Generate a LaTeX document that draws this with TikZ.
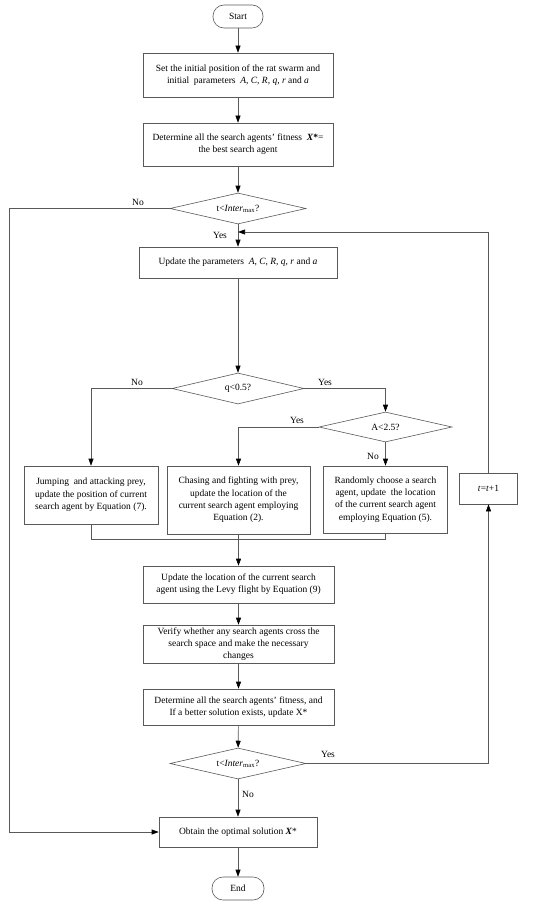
\documentclass[tikz,border=0pt]{standalone}
\usepackage{fontspec}
\setmainfont{Liberation Serif}
\usetikzlibrary{shapes.geometric,arrows.meta}
\begin{document}
\begin{tikzpicture}[x=1pt,y=-1pt,
  every node/.style={font=\fontsize{9.5}{12.3}\selectfont},
  box/.style={draw=black!65,line width=0.6pt,align=center,inner sep=1pt},
  term/.style={draw=black!65,line width=0.6pt,rounded corners=11pt,inner sep=0pt},
  dia/.style={draw=black!65,line width=0.6pt,diamond,inner sep=0pt},
  ln/.style={draw=black!65,line width=0.6pt},
  arr/.style={ln,-{Triangle[length=7pt,width=5pt,fill=black,color=black]}},
  lbl/.style={inner sep=0pt}
]
\useasboundingbox (0,0) rectangle (550,904);

\node[term,minimum width=50,minimum height=23] (start) at (238,16.5) {Start};
\node[box,minimum width=190,minimum height=44] (b1) at (238,75) {Set the initial position of the rat swarm and\\initial\ \ parameters\ \ \textit{A, C, R, q, r} and \textit{a}};
\node[box,minimum width=190,minimum height=43] (b2) at (238,144.5) {Determine all the search agents' fitness\ \ \textbf{\textit{X}*}=\\the best search agent};
\node[dia,minimum width=136,minimum height=31,aspect=4.4] (d1) at (238,208.5) {t<\textit{Inter}\textsubscript{max}?};
\node[box,minimum width=198,minimum height=31] (b3) at (238,262.5) {Update the parameters\ \ \textit{A, C, R, q, r} and \textit{a}};
\node[dia,minimum width=132,minimum height=31,aspect=4.3] (d2) at (238,388.5) {q<0.5?};
\node[dia,minimum width=133,minimum height=30,aspect=4.4] (d3) at (385.5,427) {A<2.5?};
\node[box,minimum width=134,minimum height=58] (b4) at (91,495) {Jumping\ \ and attacking prey,\\update the position of current\\search agent by Equation (7).};
\node[box,minimum width=143,minimum height=68] (b5) at (238.5,500) {Chasing and fighting with prey,\\update the location of the\\current search agent employing\\Equation (2).};
\node[box,minimum width=124,minimum height=67] (b6) at (385.5,499.5) {Randomly choose a search\\agent, update\ \ the location\\of the current search agent\\employing Equation (5).};
\node[box,minimum width=58,minimum height=31] (tb) at (488.5,488.5) {\textit{t}=\textit{t}+1};
\node[box,minimum width=191,minimum height=37] (b7) at (238.5,584.5) {Update the location of the current search\\agent using the Levy flight by Equation (9)};
\node[box,minimum width=191,minimum height=38] (b8) at (238.5,644) {Verify whether any search agents cross the\\search space and make the necessary\\changes};
\node[box,minimum width=191,minimum height=36] (b9) at (238.5,707) {Determine all the search agents' fitness, and\\If a better solution exists, update X*};
\node[dia,minimum width=136,minimum height=31,aspect=4.4] (d4) at (238,763.5) {t<\textit{Inter}\textsubscript{max}?};
\node[box,minimum width=158,minimum height=30] (b10) at (238,832) {Obtain the optimal solution \textbf{\textit{X}}*};
\node[term,minimum width=52,minimum height=23] (end) at (238,888.5) {End};

\coordinate (lft) at (9,208.5);
\coordinate (lfb) at (9,832);
\coordinate (loopR) at (488.5,232);
\coordinate (loopL) at (238,232);
\coordinate (mL) at (91,539);
\coordinate (mR) at (385.5,539);
\coordinate (yR) at (488.5,763.5);

\draw[arr] (start) -- (b1);
\draw[arr] (b1) -- (b2);
\draw[arr] (b2) -- (d1);
\draw[ln] (d1.west) -- (lft) -- (lfb);
\draw[arr] (lfb) -- (b10.west);
\draw[arr] (d1.south) -- (b3.north);
\draw[ln] (tb.north) -- (loopR);
\draw[arr] (loopR) -- (loopL);
\draw[arr] (b3) -- (d2);
\draw[arr] (d2.west) -| (b4.north);
\draw[arr] (d2.east) -| (d3.north);
\draw[arr] (d3.west) -| (b5.north);
\draw[arr] (d3.south) -- (b6.north);
\draw[ln] (b4.south) -- (mL) -- (mR) -- (b6.south);
\draw[arr] (b5.south) -- (b7.north);
\draw[arr] (b7) -- (b8);
\draw[arr] (b8) -- (b9);
\draw[arr] (b9) -- (d4);
\draw[ln] (d4.east) -- (yR);
\draw[arr] (yR) -- (tb.south);
\draw[arr] (d4.south) -- (b10.north);
\draw[arr] (b10) -- (end);

\node[lbl] (l1) at (138,202) {No};
\node[lbl] (l2) at (220,235.5) {Yes};
\node[lbl] (l3) at (137,382) {No};
\node[lbl] (l4) at (325,382) {Yes};
\node[lbl] (l5) at (297,420) {Yes};
\node[lbl] (l6) at (373,456) {No};
\node[lbl] (l7) at (328,754) {Yes};
\node[lbl] (l8) at (248,794) {No};
\end{tikzpicture}
\end{document}
